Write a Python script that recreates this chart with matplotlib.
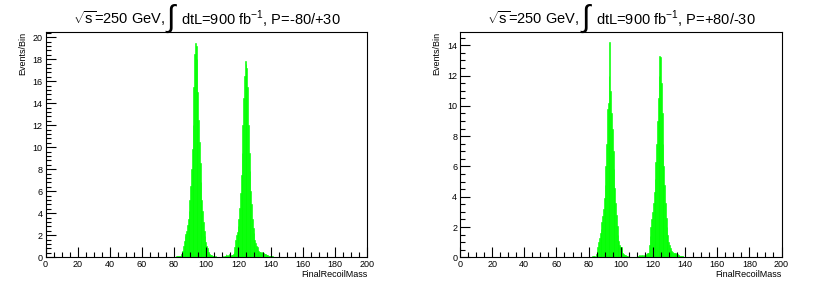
import numpy as np
import matplotlib
matplotlib.use("Agg")
import matplotlib.pyplot as plt
from matplotlib.ticker import MultipleLocator

plt.rcParams['font.family'] = ['Liberation Sans', 'DejaVu Sans']
plt.rcParams['mathtext.fontset'] = 'custom'
plt.rcParams['mathtext.rm'] = 'Liberation Sans'

# histogram: 0.5 GeV bins starting at 78 GeV (everything outside is empty)
mass_start = 78.0
bin_width = 0.5

counts_left = [
    0.03, 0.0, 0.05, 0.03, 0.05, 0.05, 0.08, 0.05, 0.1, 0.08, 0.12, 0.15,
    0.1, 0.3, 0.6, 1.0, 1.5, 1.9, 2.1, 2.4, 2.9, 3.5, 4.2, 5.2, 6.5, 8.0, 9.8, 12.0,
    15.5, 18.5, 19.5, 19.2, 18.0, 15.0, 12.5, 10.5, 8.6, 6.8, 5.2, 4.2, 3.2, 2.4,
    1.9, 1.4, 1.0, 0.8, 0.5, 0.4, 0.3, 0.25, 0.2, 0.15, 0.1, 0.1, 0.05, 0.08,
    0.05, 0.03, 0.05, 0.02, 0.03, 0.05, 0.03, 0.05, 0.08, 0.05, 0.1, 0.15, 0.3,
    0.25, 0.1, 0.2, 0.3, 0.15, 0.1, 0.2, 0.25, 0.3,
    0.5, 0.9, 1.6, 2.0, 2.3, 2.8, 3.5, 4.5, 5.8, 7.5, 9.5, 12.0, 14.5, 16.5,
    17.8, 17.6, 17.2, 15.5, 12.0, 9.5, 7.8, 6.0, 4.8, 3.5, 2.7, 2.2, 1.6, 1.3,
    1.0, 0.9, 0.7, 0.6, 0.5, 0.5, 0.4, 0.45, 0.35, 0.4, 0.3, 0.3, 0.25, 0.2,
    0.2, 0.15, 0.1, 0.12, 0.1, 0.08,
    0.08, 0.06, 0.05, 0.05, 0.04, 0.05, 0.03, 0.03, 0.02, 0.02, 0.02, 0.01,
    0.01, 0.01, 0.0, 0.01, 0.0, 0.0,
]

counts_right = [
    0.02, 0.0, 0.03, 0.02, 0.05, 0.03, 0.05, 0.05, 0.08, 0.05, 0.1, 0.1,
    0.05, 0.2, 0.4, 0.7, 1.0, 1.3, 1.6, 1.9, 2.3, 2.7, 3.2, 3.9, 4.8, 6.0, 7.5,
    9.8, 10.2, 12.0, 14.2, 11.0, 9.5, 8.5, 7.0, 5.8, 4.6, 3.6, 2.8, 2.1, 1.5,
    1.1, 0.8, 0.7, 0.7, 0.6, 0.3, 0.2, 0.15, 0.12, 0.1, 0.08, 0.06, 0.05, 0.05,
    0.04,
    0.04, 0.03, 0.03, 0.02, 0.03, 0.02, 0.03, 0.05, 0.05, 0.08, 0.1, 0.12, 0.1,
    0.15, 0.12, 0.1, 0.12, 0.1, 0.15, 0.1, 0.2, 0.3,
    0.3, 0.8, 1.4, 2.0, 2.5, 3.0, 3.6, 4.3, 5.2, 6.3, 7.5, 9.0, 10.5, 12.0,
    13.3, 13.2, 11.5, 9.5, 7.5, 6.0, 4.8, 3.6, 2.6, 2.0, 1.5, 1.0, 0.8, 0.6,
    0.5, 0.4, 0.35, 0.3, 0.3, 0.25, 0.3, 0.2, 0.2, 0.15, 0.15, 0.1, 0.1, 0.08,
    0.08, 0.06, 0.05, 0.05, 0.04, 0.04,
    0.04, 0.03, 0.03, 0.03, 0.02, 0.02, 0.02, 0.01, 0.01, 0.01, 0.01, 0.0,
    0.0, 0.0, 0.0, 0.0, 0.0, 0.0,
]

panels = [
    (counts_left, "P=-80/+30", 20.5, 0.4),
    (counts_right, "P=+80/-30", 14.9, 0.5),
]

W, H = 830, 289
fig = plt.figure(figsize=(W / 100, H / 100), dpi=100)

lefts = [45.5, 460.0]
ax_w = 321.5
y_top, y_bot = 31.7, 257.3

for (counts, pol, ymax, yminor), x0 in zip(panels, lefts):
    ax = fig.add_axes([x0 / W, 1 - y_bot / H, ax_w / W, (y_bot - y_top) / H])
    lo = mass_start + bin_width * np.arange(len(counts))
    ax.bar(lo, counts, width=bin_width, align='edge', color='#00ff00',
           edgecolor='#00ff00', lw=0.4)
    ax.set_xlim(0, 200)
    ax.set_ylim(0, ymax)

    ax.xaxis.set_major_locator(MultipleLocator(20))
    ax.xaxis.set_minor_locator(MultipleLocator(5))
    ax.yaxis.set_major_locator(MultipleLocator(2))
    ax.yaxis.set_minor_locator(MultipleLocator(yminor))
    ax.tick_params(which='both', direction='in', top=False, right=False,
                   labelsize=6.5, width=0.8, pad=2)
    ax.tick_params(which='major', length=7)
    ax.tick_params(which='minor', length=3.5)
    for s in ax.spines.values():
        s.set_linewidth(0.8)
        s.set_zorder(3)

    ax.set_xlabel("FinalRecoilMass", fontsize=6.5, loc='right', labelpad=1)
    ax.set_ylabel("Events/Bin", fontsize=6.5, loc='top', labelpad=4)

    # title: big integral sign drawn separately, ROOT-style
    shift = x0 - lefts[0]
    fig.text((165 + shift) / W, 1 - 19 / H, r"$\sqrt{\mathrm{s}}$=250 GeV,",
             fontsize=10.5, ha='right', va='center')
    fig.text((172 + shift) / W, 1 - 19 / H, r"$\int$", fontsize=22,
             ha='center', va='center')
    fig.text((181 + shift) / W, 1 - 19 / H, r"dtL=900 fb$^{-1}$, " + pol,
             fontsize=10.5, ha='left', va='center')

fig.savefig("out.png", dpi=100)
